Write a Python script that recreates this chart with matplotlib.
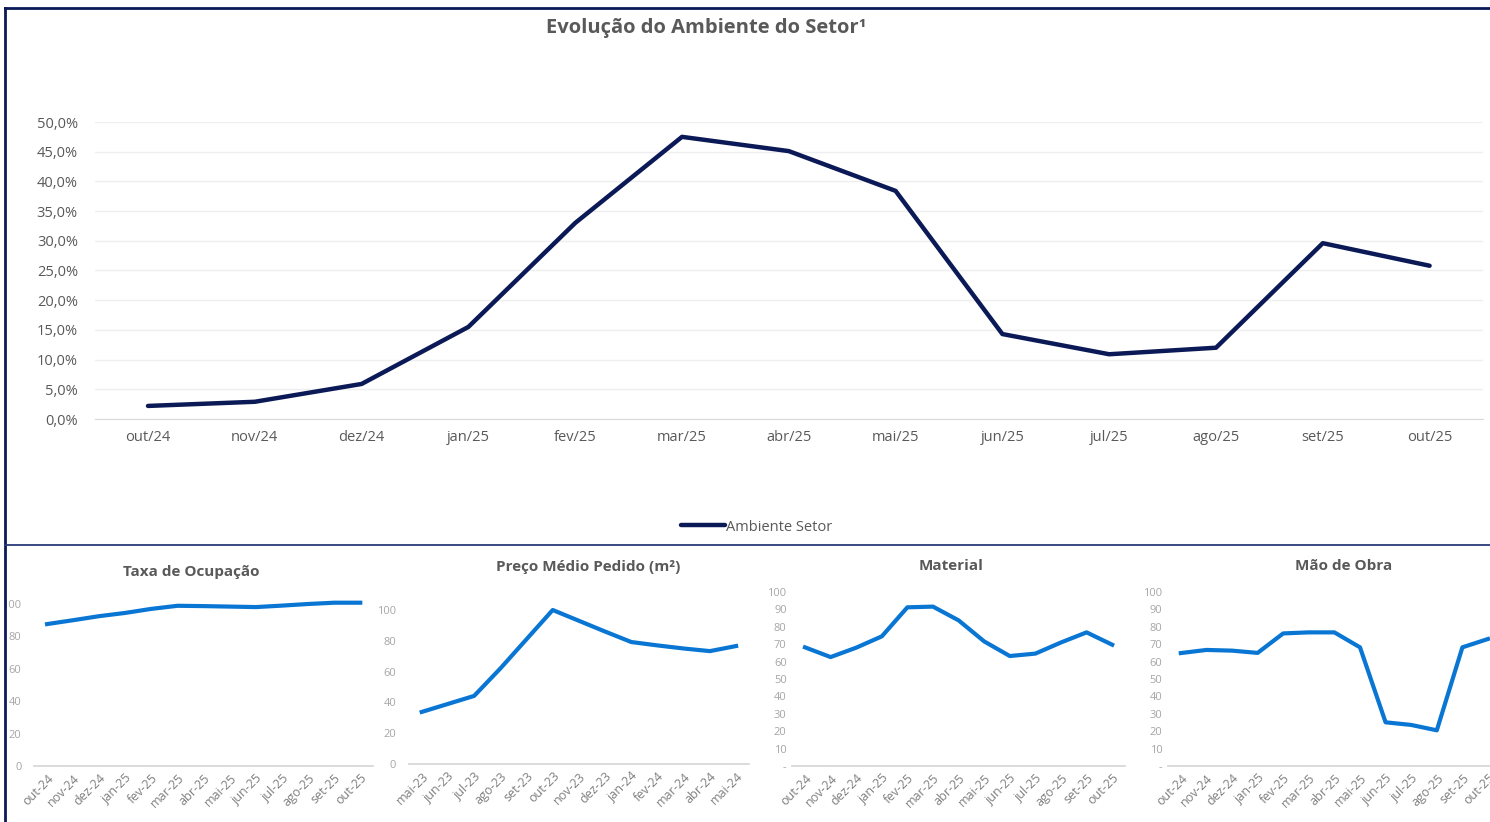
import numpy as np
import matplotlib
matplotlib.use("Agg")
import matplotlib.pyplot as plt
from matplotlib.lines import Line2D
from matplotlib.ticker import FuncFormatter

plt.rcParams['font.family'] = ['Open Sans', 'DejaVu Sans']

# dados do gráfico principal
meses_main = ['out/24', 'nov/24', 'dez/24', 'jan/25', 'fev/25', 'mar/25', 'abr/25',
              'mai/25', 'jun/25', 'jul/25', 'ago/25', 'set/25', 'out/25']
ambiente = [2.2, 2.9, 5.9, 15.5, 33.0, 47.5, 45.1, 38.4, 14.3, 10.9, 12.0, 29.6, 25.8]

# dados dos gráficos pequenos
meses_24_25 = ['out-24', 'nov-24', 'dez-24', 'jan-25', 'fev-25', 'mar-25', 'abr-25',
               'mai-25', 'jun-25', 'jul-25', 'ago-25', 'set-25', 'out-25']
meses_23_24 = ['mai-23', 'jun-23', 'jul-23', 'ago-23', 'set-23', 'out-23', 'nov-23',
               'dez-23', 'jan-24', 'fev-24', 'mar-24', 'abr-24', 'mai-24']
taxa_ocupacao = [87.6, 90.0, 92.5, 94.5, 97.0, 98.9, 98.7, 98.4, 98.1, 99.0, 100.0, 100.8, 100.8]
preco_medio = [33.8, 39.0, 44.2, 62.0, 81.0, 100.0, 93.0, 86.0, 79.2, 77.0, 75.0, 73.3, 76.6]
material = [68.2, 62.6, 68.0, 74.5, 91.2, 91.6, 83.7, 71.6, 63.2, 64.6, 71.0, 76.8, 69.7]
mao_de_obra = [64.9, 66.7, 66.3, 65.0, 76.2, 76.8, 76.8, 68.2, 25.1, 23.6, 20.5, 68.2, 73.0]

W, H = 1490, 822
fig = plt.figure(figsize=(W / 100, H / 100), dpi=100)

def px_axes(left, top_y, right, bottom_y):
    # converte pixels para fração da figura
    return fig.add_axes([left / W, 1 - bottom_y / H, (right - left) / W, (bottom_y - top_y) / H])

navy = '#0b1a57'
blue = '#0a76d4'
grid_c = '#efefef'
base_c = '#d9d9d9'

# ---- gráfico principal ----
ax = px_axes(94.6, 122, 1483, 419)
x = np.arange(len(meses_main))
ax.plot(x, ambiente, color=navy, lw=3.2, solid_capstyle='round', label='Ambiente Setor')
ax.set_xlim(-0.5, len(meses_main) - 0.5)
ax.set_ylim(0, 50)
ax.set_yticks(np.arange(0, 51, 5))
ax.yaxis.set_major_formatter(FuncFormatter(lambda v, p: f'{v:.1f}%'.replace('.', ',')))
ax.set_xticks(x)
ax.set_xticklabels(meses_main)
ax.grid(axis='y', color=grid_c, lw=1)
ax.set_axisbelow(True)
for s in ['top', 'right', 'left']:
    ax.spines[s].set_visible(False)
ax.spines['bottom'].set_color(base_c)
ax.tick_params(axis='both', length=0, labelsize=10.5, colors='#595959')
ax.tick_params(axis='y', pad=12)
ax.tick_params(axis='x', pad=8)
fig.text(706 / W, 1 - 28 / H, 'Evolução do Ambiente do Setor¹', ha='center', va='center',
         fontsize=14.5, fontweight='bold', color='#595959')
fig.legend(handles=[Line2D([], [], color=navy, lw=3.2, solid_capstyle='round')],
           labels=['Ambiente Setor'], loc='center', bbox_to_anchor=(757 / W, 1 - 527 / H),
           frameon=False, fontsize=10.5, handlelength=3.0, handletextpad=0.1,
           labelcolor='#595959')

# ---- gráficos pequenos ----
def small_chart(left, step, y0, y100, labels, values, title, title_xy, ytick_step, pad, dash_zero):
    n = len(labels)
    a = px_axes(left, y100, left + step * n, y0)
    xs = np.arange(n)
    a.plot(xs, values, color=blue, lw=3.0, clip_on=False)
    a.set_xlim(-0.5, n - 0.5)
    a.set_ylim(0, 100)
    ticks = np.arange(0, 101, ytick_step)
    a.set_yticks(ticks)
    a.set_yticklabels(['-' if (t == 0 and dash_zero) else str(int(t)) for t in ticks])
    a.set_xticks(xs)
    a.set_xticklabels(labels, rotation=45, ha='right', rotation_mode='anchor')
    for s in ['top', 'right', 'left']:
        a.spines[s].set_visible(False)
    a.spines['bottom'].set_color(base_c)
    a.spines['bottom'].set_linewidth(1.3)
    a.tick_params(axis='both', length=0)
    a.tick_params(axis='y', labelsize=8, colors='#a6a6a6', pad=pad)
    a.tick_params(axis='x', labelsize=9, colors='#7f7f7f', pad=4)
    fig.text(title_xy[0] / W, 1 - title_xy[1] / H, title, ha='center', va='center',
             fontsize=11, fontweight='bold', color='#595959')

small_chart(34, 26.1, 766, 604, meses_24_25, taxa_ocupacao, 'Taxa de Ocupação', (191, 572), 20, 9, False)
small_chart(408.6, 26.2, 764, 610, meses_23_24, preco_medio, 'Preço Médio Pedido (m²)', (588, 567), 20, 9, False)
small_chart(792.2, 25.6, 766, 592, meses_24_25, material, 'Material', (951, 566), 10, 4, True)
small_chart(1168, 25.6, 766, 592, meses_24_25, mao_de_obra, 'Mão de Obra', (1344, 566), 10, 4, True)

# ---- bordas ----
fig.add_artist(Line2D([5 / W, 1], [1 - 8 / H, 1 - 8 / H], color=navy, lw=2))
fig.add_artist(Line2D([5 / W, 5 / W], [0, 1 - 8 / H], color=navy, lw=2))
fig.add_artist(Line2D([5 / W, 1], [1 - 545 / H, 1 - 545 / H], color='#2a3a78', lw=1.3))

fig.savefig('out.png', dpi=100)
